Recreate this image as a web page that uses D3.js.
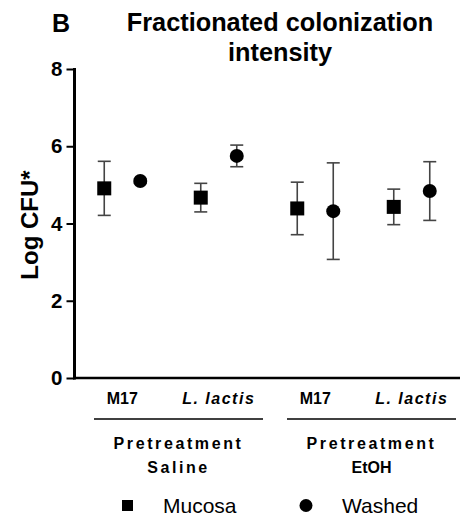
<!DOCTYPE html>
<html>
<head>
<meta charset="utf-8">
<script src="https://cdn.jsdelivr.net/npm/d3@7"></script>
<style>
  body { margin: 0; background: #fff; }
  text { font-family: "Liberation Sans", Arial, sans-serif; }
</style>
</head>
<body>
<div id="vis"></div>
<script>
const WIDTH = 462;
const HEIGHT = 522;

// data
const categories = ["M17", "L. lactis", "M17 ", "L. lactis "];
const catLabels = ["M17", "L. lactis", "M17", "L. lactis"];
const italicCats = [false, true, false, true];
const groups = ["Saline", "EtOH"];
const mucosaMean = [4.91, 4.67, 4.39, 4.43];
const mucosaSem = [0.70, 0.37, 0.68, 0.46];
const washedMean = [5.10, 5.75, 4.32, 4.84];
const washedSem = [0.05, 0.28, 1.25, 0.76];
const yTicks = [0, 2, 4, 6, 8];
const titleLines = ["Fractionated colonization", "intensity"];

const svg = d3.select("#vis")
  .append("svg")
    .attr("width", WIDTH)
    .attr("height", HEIGHT);

const X_SCALE = d3.scaleBand().domain(categories).range([74, 460]).padding(0);
const Y_SCALE = d3.scaleLinear().domain([0, 8]).range([378, 69]);
const OFF = 18;

// titles
svg.append("text").attr("x", 52).attr("y", 32)
  .attr("font-size", 25).attr("font-weight", "bold").text("B");
svg.selectAll(".title").data(titleLines).enter().append("text")
  .attr("class", "title")
  .attr("text-anchor", "middle")
  .attr("font-size", 25.3).attr("font-weight", "bold")
  .attr("x", 280).attr("y", (d, i) => 31 + i * 30)
  .text(d => d);

// y axis
const yAxis = svg.append("g")
  .attr("transform", "translate(74.5,0)")
  .call(d3.axisLeft(Y_SCALE).tickValues(yTicks).tickSize(8).tickPadding(4).tickFormat(d3.format("d")));
yAxis.select(".domain").remove();
yAxis.selectAll(".tick line").attr("stroke-width", 2);
yAxis.selectAll(".tick text").attr("font-size", 20.5).attr("font-weight", "bold")
  .attr("font-family", "Liberation Sans, Arial, sans-serif").attr("fill", "#000");

svg.append("line").attr("x1", 74.5).attr("x2", 74.5)
  .attr("y1", Y_SCALE(8) - 1).attr("y2", Y_SCALE(0) + 1.5)
  .attr("stroke", "#000").attr("stroke-width", 3);
svg.append("line").attr("x1", 73).attr("x2", 460)
  .attr("y1", Y_SCALE(0)).attr("y2", Y_SCALE(0))
  .attr("stroke", "#000").attr("stroke-width", 2.5);

svg.append("text")
  .attr("transform", "translate(38," + 225 + ") rotate(-90)")
  .attr("text-anchor", "middle").attr("font-size", 24).attr("font-weight", "bold")
  .text("Log CFU*");

// category labels
svg.selectAll(".cat")
  .data(categories)
  .enter().append("text")
    .attr("class", "cat")
    .attr("x", d => X_SCALE(d) + X_SCALE.bandwidth() / 2)
    .attr("y", 404)
    .attr("text-anchor", "middle")
    .attr("font-size", 16).attr("font-weight", "bold")
    .attr("font-style", (d, i) => italicCats[i] ? "italic" : "normal")
    .attr("letter-spacing", (d, i) => italicCats[i] ? 1.5 : 0)
    .text((d, i) => catLabels[i]);

// group brackets
groups.forEach((g, gi) => {
  const x0 = X_SCALE(categories[gi * 2]) + 20;
  const x1 = X_SCALE(categories[gi * 2 + 1]) + X_SCALE.bandwidth() - 4;
  svg.append("line").attr("x1", x0).attr("x2", x1).attr("y1", 419).attr("y2", 419)
    .attr("stroke", "#000").attr("stroke-width", 1.5);
  const cx = (x0 + x1) / 2;
  svg.append("text").attr("x", cx).attr("y", 449).attr("text-anchor", "middle")
    .attr("font-size", 16).attr("font-weight", "bold").attr("letter-spacing", 2.6)
    .text("Pretreatment");
  svg.append("text").attr("x", cx).attr("y", 473).attr("text-anchor", "middle")
    .attr("font-size", 16).attr("font-weight", "bold")
    .attr("letter-spacing", gi === 0 ? 2.6 : 0)
    .text(g);
});

// error bars + markers
function drawSeries(means, sems, dx, shape) {
  const g = svg.append("g");
  const pts = means.map((m, i) => ({cat: categories[i], m: m, s: sems[i]}));
  const cx = d => X_SCALE(d.cat) + X_SCALE.bandwidth() / 2 + dx;
  g.selectAll(".ev").data(pts).enter().append("line")
    .attr("x1", cx).attr("x2", cx)
    .attr("y1", d => Y_SCALE(d.m + d.s)).attr("y2", d => Y_SCALE(d.m - d.s))
    .attr("stroke", "#444").attr("stroke-width", 1.6);
  [1, -1].forEach(sg => {
    g.selectAll(".cap" + sg).data(pts).enter().append("line")
      .attr("x1", d => cx(d) - 6.5).attr("x2", d => cx(d) + 6.5)
      .attr("y1", d => Y_SCALE(d.m + sg * d.s)).attr("y2", d => Y_SCALE(d.m + sg * d.s))
      .attr("stroke", "#444").attr("stroke-width", 1.6);
  });
  if (shape === "square") {
    g.selectAll(".mk").data(pts).enter().append("rect")
      .attr("x", d => cx(d) - 7).attr("y", d => Y_SCALE(d.m) - 7)
      .attr("width", 14).attr("height", 14).attr("fill", "#000");
  } else {
    g.selectAll(".mk").data(pts).enter().append("circle")
      .attr("cx", cx).attr("cy", d => Y_SCALE(d.m)).attr("r", 7).attr("fill", "#000");
  }
}
drawSeries(mucosaMean, mucosaSem, -OFF, "square");
drawSeries(washedMean, washedSem, OFF, "circle");

// legend
svg.append("rect").attr("x", 122).attr("y", 500).attr("width", 11).attr("height", 11).attr("fill", "#000");
svg.append("text").attr("x", 163).attr("y", 513).attr("font-size", 21).text("Mucosa");
svg.append("circle").attr("cx", 306).attr("cy", 505.5).attr("r", 6.5).attr("fill", "#000");
svg.append("text").attr("x", 342).attr("y", 513).attr("font-size", 21).text("Washed");
</script>
</body>
</html>
